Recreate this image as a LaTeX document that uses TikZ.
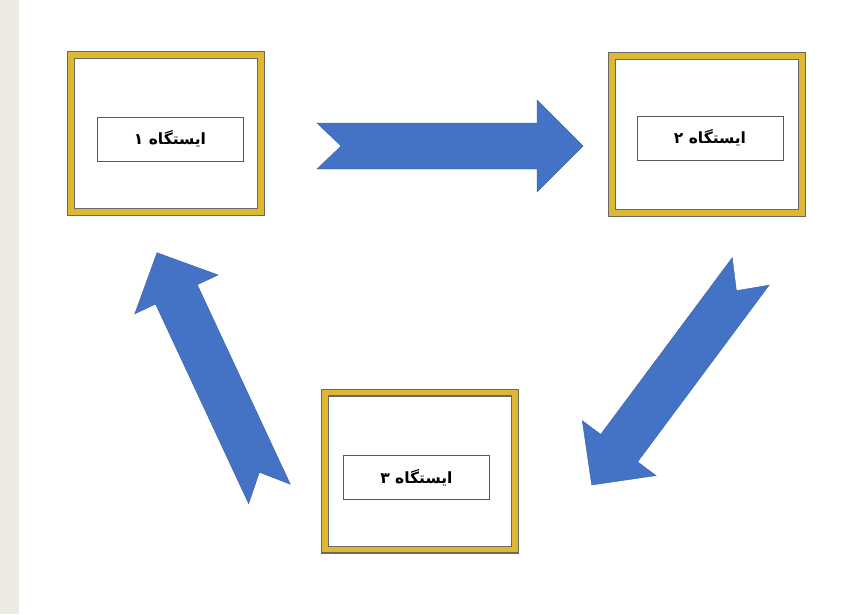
\documentclass[tikz,border=0pt]{standalone}
\usepackage{fontspec}
\newfontfamily\arabicfont[Script=Arabic]{DejaVu Sans}
\TeXXeTstate=1
\usetikzlibrary{calc, positioning}
\definecolor{arrowblue}{RGB}{68,114,196}
\definecolor{arrowedge}{RGB}{60,98,170}
\definecolor{framegold}{RGB}{222,184,52}
\definecolor{framegray}{RGB}{105,105,95}
\definecolor{margin}{RGB}{237,234,228}
\tikzset{
	station/.style={
		rectangle,
		draw=framegray, line width=8pt,
		fill=white,
		minimum width=190pt, minimum height=157pt,
		inner sep=0pt,
		postaction={draw=framegold, line width=5.5pt}
	},
	label box/.style={
		rectangle,
		draw=black!65, thin,
		fill=white,
		minimum width=146pt, minimum height=44pt,
		inner sep=0pt,
		font=\arabicfont\bfseries\fontsize{15.5}{18}\selectfont
	},
	block arrow/.style={fill=arrowblue, draw=arrowedge, thin, line join=miter}
}
% tail, tip
\newcommand{\blockarrow}[2]{
	\coordinate (base) at ($(#2)!46pt!(#1)$);
	\filldraw[block arrow]
		($(#1)!23pt!90:(#2)$) -- ($(base)!23pt!-90:(#1)$) -- ($(base)!46pt!-90:(#1)$) -- (#2)
		-- ($(base)!46pt!90:(#1)$) -- ($(base)!23pt!90:(#1)$) -- ($(#1)!23pt!-90:(#2)$)
		-- ($(#1)!24pt!(#2)$) -- cycle;
}
\begin{document}
\begin{tikzpicture}[x=1pt, y=-1pt]
	\useasboundingbox (0,0) rectangle (866,614);
	\fill[margin] (0,0) rectangle (18.5,614);

	\node[station] (st1) at (166,133.5) {};
	\node[station] (st2) at (707,134.5) {};
	\node[station] (st3) at (420,471) {};

	\node[label box] (lab1) at (170,138.7) {\beginR ایستگاه ۱\endR};
	\node[label box] (lab2) at (710,138) {\beginR ایستگاه ۲\endR};
	\node[label box] (lab3) at (416.4,477.6) {\beginR ایستگاه ۳\endR};

	\coordinate (t12) at (317,146);		\coordinate (h12) at (583,146);
	\coordinate (t23) at (750.7,271.4);	\coordinate (h23) at (591.7,485);
	\coordinate (t31) at (269.5,494);	\coordinate (h31) at (157,252.7);

	\blockarrow{t12}{h12}
	\blockarrow{t23}{h23}
	\blockarrow{t31}{h31}
\end{tikzpicture}
\end{document}
